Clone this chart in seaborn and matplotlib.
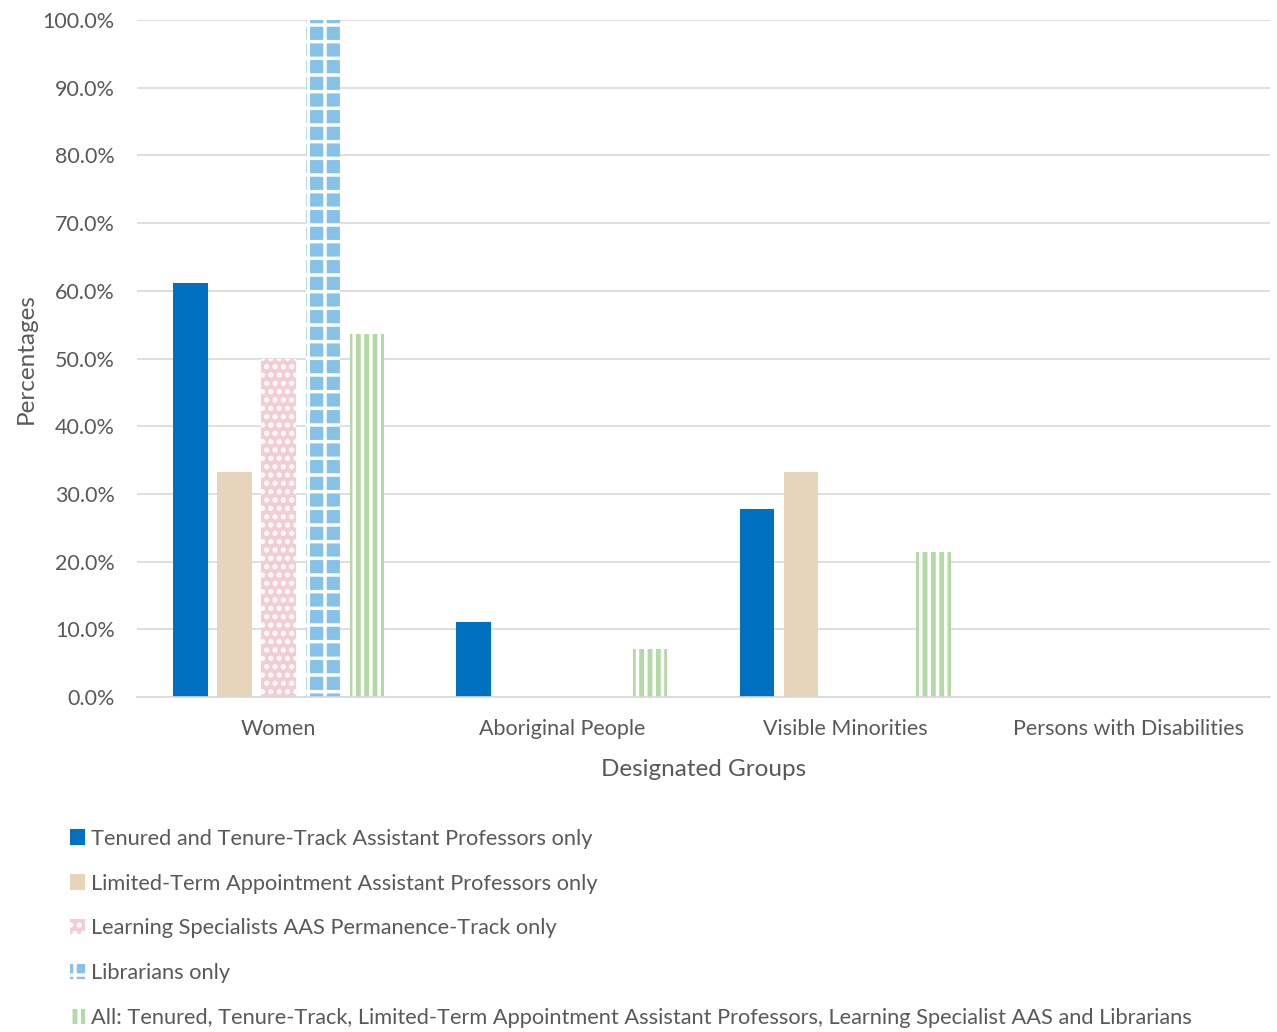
import pandas as pd
import numpy as np
import matplotlib.pyplot as plt
import seaborn as sns
from matplotlib.ticker import FuncFormatter
from matplotlib.patches import Patch

# data (percent)
groups = ['Women', 'Aboriginal People', 'Visible Minorities', 'Persons with Disabilities']
series = ['Tenured and Tenure-Track Assistant Professors only',
          'Limited-Term Appointment Assistant Professors only',
          'Learning Specialists AAS Permanence-Track only',
          'Librarians only',
          'All: Tenured, Tenure-Track, Limited-Term Appointment Assistant Professors, Learning Specialist AAS and Librarians']
tenured = [61.1, 11.1, 27.8, 0.0]
lta = [33.3, 0.0, 33.3, 0.0]
learning = [50.0, 0.0, 0.0, 0.0]
librarians = [100.0, 0.0, 0.0, 0.0]
all_staff = [53.6, 7.1, 21.4, 0.0]

values = [tenured, lta, learning, librarians, all_staff]
rows = []
for s, vals in zip(series, values):
    for g, v in zip(groups, vals):
        rows.append({'group': g, 'series': s, 'pct': v})
df = pd.DataFrame(rows)

colors = ['#0070C0', '#E6D5BA', '#F2CDD4', '#86C1E8', '#B4D8A6']
hatches = [None, None, '..', '+', '||']

sns.set_style('white')
plt.rcParams['font.family'] = ['Lato', 'DejaVu Sans']
plt.rcParams['hatch.color'] = 'white'
plt.rcParams['hatch.linewidth'] = 2.5
txt = '#595959'

fig = plt.figure(figsize=(12.77, 10.32), dpi=100)
ax = fig.add_axes([0.1073, 0.3246, 0.8872, 0.656])

sns.barplot(data=df, x='group', y='pct', hue='series', hue_order=series,
            palette=colors, width=0.78, gap=0.22, ax=ax, legend=False,
            saturation=1, errorbar=None)

for cont, h, c in zip(ax.containers, hatches, colors):
    for p in cont:
        p.set_linewidth(0)
        if h:
            p.set_hatch(h)
            p.set_edgecolor('white')
            p.set_facecolor(c)

ax.set_ylim(0, 100)
ax.set_yticks(np.arange(0, 101, 10))
ax.yaxis.set_major_formatter(FuncFormatter(lambda v, _: f'{v:.1f}%'))
ax.grid(axis='y', color='#d9d9d9', linewidth=1.2)
ax.set_axisbelow(True)
[ax.spines[i].set_visible(False) for i in ['top', 'right', 'left']]
ax.spines['bottom'].set_color('#d9d9d9')
ax.spines['bottom'].set_linewidth(1.2)
ax.tick_params(axis='both', length=0, labelsize=15.5, labelcolor=txt)
ax.tick_params(axis='x', pad=16)
ax.tick_params(axis='y', pad=16)
ax.set_xlabel('Designated Groups', fontsize=17.5, color=txt, labelpad=14)
ax.set_ylabel('Percentages', fontsize=17.5, color=txt, labelpad=4)

leg_handles = []
for c, h in zip(colors, hatches):
    leg_handles.append(Patch(facecolor=c, edgecolor='white' if h else c,
                             hatch=h, linewidth=0))
fig.legend(leg_handles, series, loc='upper left', bbox_to_anchor=(0.055, 0.197),
           frameon=False, fontsize=15.7, labelcolor=txt, handlelength=0.7,
           handleheight=0.7, handletextpad=0.25, labelspacing=1.14,
           borderaxespad=0, borderpad=0)

plt.savefig('out.png', dpi=100)
